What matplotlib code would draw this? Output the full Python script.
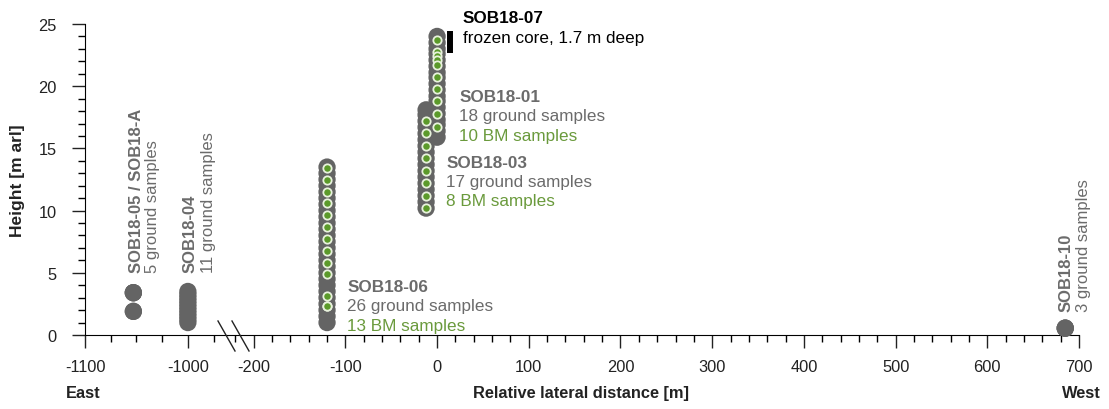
import numpy as np
import matplotlib.pyplot as plt
from matplotlib.lines import Line2D

plt.rcParams['font.family'] = ['Liberation Sans', 'DejaVu Sans']
plt.rcParams['axes.unicode_minus'] = False

# profile positions [m] and sample heights [m arl]
sob05_x = -1053
sob05_ground = [1.9, 1.9, 3.4, 3.4, 3.4]
sob04_x = -1000
sob04_ground = [1.0, 1.25, 1.5, 1.75, 2.0, 2.25, 2.5, 2.75, 3.0, 3.25, 3.5]
sob06_x = -120
sob06_ground = [1.0, 1.5, 2.0, 2.5, 3.0, 3.5, 4.0, 4.5, 5.0, 5.5, 6.0, 6.5, 7.0,
                7.5, 8.0, 8.5, 9.0, 9.5, 10.0, 10.5, 11.0, 11.5, 12.0, 12.5, 13.0, 13.5]
sob06_bm = [13.45, 12.5, 11.5, 10.6, 9.65, 8.7, 7.75, 6.75, 5.8, 4.9, 3.15, 2.3, 2.3]
sob03_x = -12
sob03_ground = [10.2, 10.7, 11.2, 11.7, 12.2, 12.7, 13.2, 13.7, 14.2, 14.7, 15.2,
                15.7, 16.2, 16.7, 17.2, 17.7, 18.1]
sob03_bm = [17.2, 16.2, 15.2, 14.2, 13.2, 12.2, 11.2, 10.2]
sob01_x = 0
sob01_ground = [15.9, 16.4, 16.9, 17.3, 17.8, 18.3, 18.8, 19.2, 19.7, 20.2, 20.7,
                21.1, 21.6, 22.1, 22.6, 23.0, 23.5, 24.0]
sob01_bm = [23.7, 22.75, 22.4, 22.1, 21.7, 20.7, 19.8, 18.8, 17.75, 16.75]
sob07_x = 14
sob07_core = [22.7, 24.4]
sob10_x = 685
sob10_ground = [0.55, 0.55, 0.55]

GRAY = '#646464'
TXT_GRAY = '#6b6b6b'
GREEN = '#6a9a3c'
DOT_GREEN = '#5b9a2a'

fig = plt.figure(figsize=(11.09, 4.10), dpi=100)
W, H = 1109., 410.
ax_l = fig.add_axes([85 / W, 74 / H, 143 / W, 311 / H])
ax_r = fig.add_axes([228 / W, 74 / H, 851 / W, 311 / H], sharey=ax_l)


def ground(ax, x, ys):
    ax.scatter([x] * len(ys), ys, s=155, color=GRAY, edgecolors='none', zorder=3, clip_on=False)


def bm(ax, x, ys):
    ax.scatter([x] * len(ys), ys, s=36, color=DOT_GREEN, edgecolors='#e8f2dc',
               linewidths=1.3, zorder=4, clip_on=False)


ground(ax_l, sob05_x, sob05_ground)
ground(ax_l, sob04_x, sob04_ground)
ground(ax_r, sob06_x, sob06_ground)
bm(ax_r, sob06_x, sob06_bm)
ground(ax_r, sob03_x, sob03_ground)
bm(ax_r, sob03_x, sob03_bm)
ground(ax_r, sob01_x, sob01_ground)
bm(ax_r, sob01_x, sob01_bm)
ground(ax_r, sob10_x, sob10_ground)
ax_r.plot([sob07_x, sob07_x], sob07_core, color='black', lw=4.3, solid_capstyle='butt', zorder=2)

# axes styling
for ax in (ax_l, ax_r):
    ax.spines['top'].set_visible(False)
    ax.spines['right'].set_visible(False)
    ax.tick_params(which='major', direction='out', length=9.5, width=1, labelsize=11.8,
                   colors='#222222')
    ax.tick_params(axis='x', which='major', pad=8)
    ax.tick_params(axis='y', which='major', pad=11)
    ax.tick_params(which='minor', direction='out', length=5, width=1)
    ax.set_ylim(0, 25)
ax_r.spines['left'].set_visible(False)
ax_r.tick_params(axis='y', which='both', left=False, labelleft=False)

ax_l.set_xlim(-1100, -961)
ax_l.set_xticks([-1100, -1000])
ax_l.set_xticks([-1075, -1050, -1025, -975], minor=True)
ax_l.set_yticks([0, 5, 10, 15, 20, 25])
ax_l.set_yticks(np.arange(0, 26, 1), minor=True)

ax_r.set_xlim(-228, 700)
ax_r.set_xticks(np.arange(-200, 701, 100))
ax_r.set_xticks(np.arange(-220, 701, 20), minor=True)

ax_l.set_ylabel('Height [m arl]', fontsize=12.5, fontweight='bold', color='#222222')
ax_l.yaxis.set_label_coords(-0.42, 0.5)
ax_r.set_xlabel('Relative lateral distance [m]', fontsize=11.8, fontweight='bold', color='#222222')
ax_r.xaxis.set_label_coords(0.415, -0.185)
ax_r.xaxis.label.set_verticalalignment('center')

ax_l.text(-1102, -0.185, 'East', transform=ax_l.get_xaxis_transform(), ha='center', va='center',
          fontsize=11.8, fontweight='bold', color='#222222')
ax_r.text(703, -0.185, 'West', transform=ax_r.get_xaxis_transform(), ha='center', va='center',
          fontsize=11.8, fontweight='bold', color='#222222')

# axis break marks
for x0 in (218, 232):
    fig.add_artist(Line2D([x0 / W, (x0 + 17) / W], [1 - 322 / H, 1 - 352 / H],
                          color='#222222', lw=1))


def label_block(ax, x, y, name, lines, name_color=TXT_GRAY):
    ax.text(x, y, name, fontsize=12.3, fontweight='bold', color=name_color, ha='left', va='center')
    for i, (txt, col) in enumerate(lines):
        ax.annotate(txt, (x, y), xytext=(0, -14 * (i + 1)), textcoords='offset points',
                    fontsize=12.3, color=col, ha='left', va='center', annotation_clip=False)


label_block(ax_r, 28, 25.5, 'SOB18-07', [('frozen core, 1.7 m deep', 'black')], name_color='black')
label_block(ax_r, 24, 19.2, 'SOB18-01', [('18 ground samples', TXT_GRAY), ('10 BM samples', GREEN)])
label_block(ax_r, 10, 13.9, 'SOB18-03', [('17 ground samples', TXT_GRAY), ('8 BM samples', GREEN)])
label_block(ax_r, -98, 3.9, 'SOB18-06', [('26 ground samples', TXT_GRAY), ('13 BM samples', GREEN)])


def vlabel(ax, x1, x2, y, name, txt):
    ax.text(x1, y, name, rotation=90, ha='center', va='bottom', fontsize=12,
            fontweight='bold', color=TXT_GRAY, clip_on=False)
    ax.text(x2, y, txt, rotation=90, ha='center', va='bottom', fontsize=12,
            color=TXT_GRAY, clip_on=False)


vlabel(ax_l, -1050, -1034, 5.06, 'SOB18-05 / SOB18-A', '5 ground samples')
vlabel(ax_l, -998, -980, 5.06, 'SOB18-04', '11 ground samples')
vlabel(ax_r, 686, 705, 1.9, 'SOB18-10', '3 ground samples')

fig.savefig('out.png', dpi=100)
